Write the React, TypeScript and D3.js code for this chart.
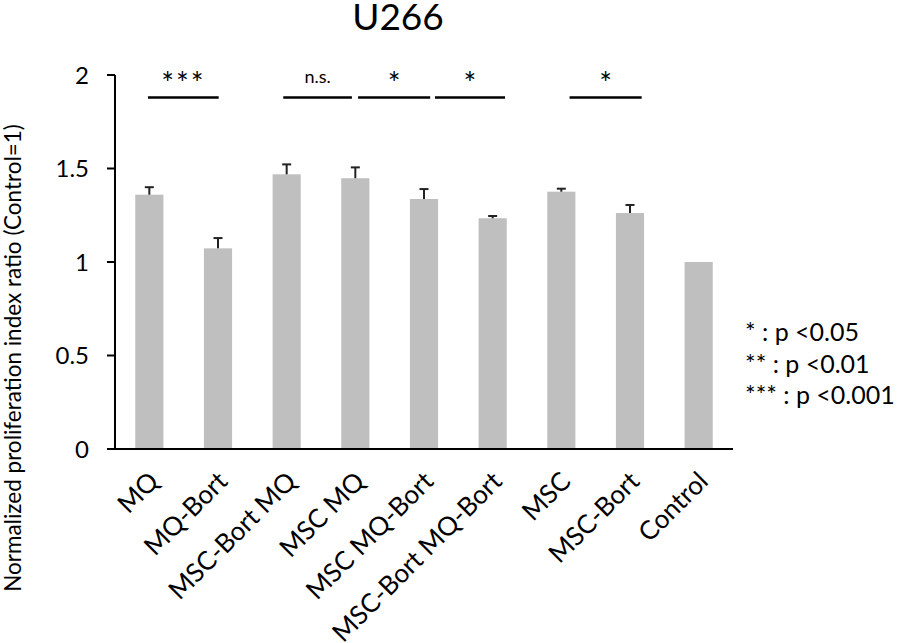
import React from "react";
import * as d3 from "d3";

const categories = ["MQ", "MQ-Bort", "MSC-Bort MQ", "MSC MQ", "MSC MQ-Bort", "MSC-Bort MQ-Bort", "MSC", "MSC-Bort", "Control"];
const values = [1.36, 1.073, 1.469, 1.448, 1.337, 1.234, 1.376, 1.262, 1.0];
const errors = [0.04, 0.055, 0.053, 0.058, 0.053, 0.012, 0.016, 0.043, 0];
const yTicks = [0, 0.5, 1, 1.5, 2];
const yTickLabels = ["0", "0.5", "1", "1.5", "2"];
const sigLabels = ["***", "n.s.", "*", "*", "*"];
const sigStart = [-0.02, 1.95, 3.04, 4.16, 6.12];
const sigEnd = [1.01, 2.95, 4.09, 5.18, 7.17];
const legendLines = ["* : p <0.05", "** : p <0.01", "*** : p <0.001"];

const W = 900, H = 643;
const FONT = "Lato, 'Open Sans', sans-serif";

export default function App() {
  const x = d3.scaleBand<string>().domain(categories).range([115, 733]).paddingInner(0.59).paddingOuter(0.295);
  const y = d3.scaleLinear().domain([0, 2]).range([449, 75]);
  const bw = x.bandwidth();
  const step = x.step();
  const c0 = (x(categories[0]) as number) + bw / 2;
  const pos = (u: number) => c0 + u * step;
  const sigY = y(1.88);

  return (
    <svg width={W} height={H} style={{ position: "absolute", left: 0, top: 0, background: "#fff" }} fontFamily={FONT}>
      <text x={398} y={30} textAnchor="middle" fontSize={37}>U266</text>
      {/* bars */}
      {categories.map((c, i) => (
        <rect key={c} x={x(c)} y={y(values[i])} width={bw} height={y(0) - y(values[i])} fill="#bfbfbf" />
      ))}
      {/* error bars */}
      {categories.map((c, i) => errors[i] > 0 ? (
        <g key={"e" + c} stroke="#222" strokeWidth={2}>
          <line x1={(x(c) as number) + bw / 2} x2={(x(c) as number) + bw / 2} y1={y(values[i])} y2={y(values[i] + errors[i])} />
          <line x1={(x(c) as number) + bw / 2 - 4.5} x2={(x(c) as number) + bw / 2 + 4.5} y1={y(values[i] + errors[i])} y2={y(values[i] + errors[i])} />
        </g>
      ) : null)}
      {/* y axis */}
      <line x1={115} x2={115} y1={y(2)} y2={y(0)} stroke="#000" strokeWidth={2} />
      {yTicks.map((t, i) => (
        <g key={t}>
          <line x1={107} x2={115} y1={y(t)} y2={y(t)} stroke="#000" strokeWidth={2} />
          <text x={89} y={y(t)} dy="0.36em" textAnchor="end" fontSize={24}>{yTickLabels[i]}</text>
        </g>
      ))}
      {/* x axis */}
      <line x1={107} x2={733} y1={y(0)} y2={y(0)} stroke="#000" strokeWidth={2} />
      {categories.map((c) => {
        const cx = (x(c) as number) + bw / 2 + 11;
        const cy = 483;
        return (
          <text key={"l" + c} x={cx} y={cy} textAnchor="end" fontSize={26} transform={`rotate(-45 ${cx} ${cy})`}>{c}</text>
        );
      })}
      {/* y label */}
      <text transform={`translate(21,358) rotate(-90)`} textAnchor="middle" fontSize={22.5}>Normalized proliferation index ratio (Control=1)</text>
      {/* significance */}
      {sigLabels.map((s, i) => (
        <g key={"s" + i}>
          <line x1={pos(sigStart[i])} x2={pos(sigEnd[i])} y1={sigY} y2={sigY} stroke="#000" strokeWidth={2.5} />
          <text x={(pos(sigStart[i]) + pos(sigEnd[i])) / 2} y={s === "n.s." ? 83 : 94} textAnchor="middle" fontSize={s === "n.s." ? 18 : 30} letterSpacing={s === "***" ? 2 : 0}>{s}</text>
        </g>
      ))}
      {/* legend */}
      {legendLines.map((l, i) => (
        <text key={l} x={745} y={341 + i * 31.5} fontSize={25}>{l}</text>
      ))}
    </svg>
  );
}
